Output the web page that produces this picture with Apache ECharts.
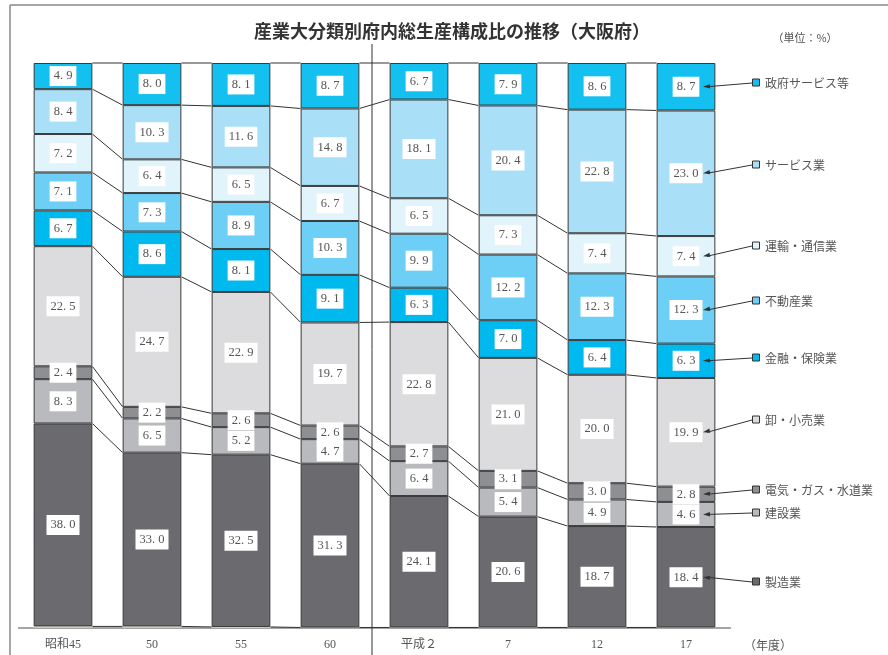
<!DOCTYPE html>
<html><head><meta charset="utf-8">
<script src="https://cdn.jsdelivr.net/npm/echarts@6/dist/echarts.min.js"></script>
<style>html,body{margin:0;padding:0;background:#fff}#c{width:888px;height:655px}</style>
</head><body><div id="c"></div>
<script>
const categories = ['昭和45','50','55','60','平成２','7','12','17'];
const agriculture = [0.3, 0.3, 0.2, 0.1, 0.1, 0.1, 0.1, 0.1];
const manufacturing = [38.0, 33.0, 32.5, 31.3, 24.1, 20.6, 18.7, 18.4];
const construction = [8.3, 6.5, 5.2, 4.7, 6.4, 5.4, 4.9, 4.6];
const utilities = [2.4, 2.2, 2.6, 2.6, 2.7, 3.1, 3.0, 2.8];
const trade = [22.5, 24.7, 22.9, 19.7, 22.8, 21.0, 20.0, 19.9];
const finance = [6.7, 8.6, 8.1, 9.1, 6.3, 7.0, 6.4, 6.3];
const realEstate = [7.1, 7.3, 8.9, 10.3, 9.9, 12.2, 12.3, 12.3];
const transport = [7.2, 6.4, 6.5, 6.7, 6.5, 7.3, 7.4, 7.4];
const services = [8.4, 10.3, 11.6, 14.8, 18.1, 20.4, 22.8, 23.0];
const government = [4.9, 8.0, 8.1, 8.7, 6.7, 7.9, 8.6, 8.7];

const seriesDefs = [
  {name:'農林水産業', data: agriculture, color:'#d8cc9c', label:false},
  {name:'製造業', data: manufacturing, color:'#6a6a6f', legendY:582},
  {name:'建設業', data: construction, color:'#b9babd', legendY:513},
  {name:'電気・ガス・水道業', data: utilities, color:'#8e8f93', legendY:490},
  {name:'卸・小売業', data: trade, color:'#dcdcde', legendY:420},
  {name:'金融・保険業', data: finance, color:'#00b9ef', legendY:358},
  {name:'不動産業', data: realEstate, color:'#6dcff5', legendY:301},
  {name:'運輸・通信業', data: transport, color:'#e1f3fb', legendY:246},
  {name:'サービス業', data: services, color:'#aadff8', legendY:165},
  {name:'政府サービス等', data: government, color:'#13c0f0', legendY:83}
];

const totals = categories.map((c, i) => seriesDefs.reduce((s, d) => s + d.data[i], 0));
const pct = seriesDefs.map(d => d.data.map((v, i) => v / totals[i] * 100));
const cum = categories.map((c, i) => {
  const arr = [0]; let s = 0;
  pct.forEach(p => { s += p[i]; arr.push(s); });
  return arr;
});

const labelFont = '"Liberation Serif","DejaVu Serif",serif';
const cjkFont = '"Noto Sans CJK JP","Noto Sans",sans-serif';
const BW = 0.66;

const series = seriesDefs.map((d, si) => ({
  name: d.name,
  type: 'bar',
  stack: 'total',
  barWidth: (BW * 100) + '%',
  data: pct[si],
  itemStyle: {color: d.color, borderColor: si === 0 ? d.color : '#3a3a3a', borderWidth: si === 0 ? 0 : 1},
  label: {
    show: d.label !== false,
    position: 'inside',
    formatter: p => d.data[p.dataIndex].toFixed(1).replace('.', '. '),
    color: '#555',
    fontFamily: labelFont,
    fontSize: 12.5,
    backgroundColor: '#fff',
    padding: [4, 4, 3, 4]
  },
  emphasis: {disabled: true},
  silent: true
}));

series.push({
  type: 'custom',
  silent: true,
  z: 1,
  data: categories.slice(0, categories.length - 1).map((c, i) => [i]),
  renderItem: (params, api) => {
    const i = api.value(0);
    const band = api.size([1, 0])[0];
    const half = band * BW / 2;
    const children = [];
    const a = cum[i], b = cum[i + 1];
    for (let k = 1; k < a.length; k++) {
      const p0 = api.coord([i, a[k]]);
      const p1 = api.coord([i + 1, b[k]]);
      children.push({
        type: 'line',
        shape: {x1: p0[0] + half, y1: p0[1], x2: p1[0] - half, y2: p1[1]},
        style: {stroke: '#333', lineWidth: 1}
      });
    }
    return {type: 'group', children};
  }
});

const chart = echarts.init(document.getElementById('c'));
chart.setOption({
  animation: false,
  grid: {left: 18.5, right: 157.5, top: 63, bottom: 27},
  xAxis: {
    type: 'category',
    data: categories,
    axisLine: {lineStyle: {color: '#888', width: 1.5}},
    axisTick: {show: false},
    axisLabel: {color: '#555', fontFamily: '"Liberation Serif","Noto Sans CJK JP",serif', fontSize: 12, margin: 11}
  },
  yAxis: {type: 'value', min: 0, max: 100, show: false, splitLine: {show: false}},
  series
});

const g = [
  {type: 'line', z: 100, shape: {x1: 10, y1: 5, x2: 10, y2: 655}, style: {stroke: '#888', lineWidth: 1.5}},
  {type: 'line', z: 100, shape: {x1: 10, y1: 5, x2: 888, y2: 5}, style: {stroke: '#888', lineWidth: 1.5}},
  {type: 'line', z: 100, shape: {x1: 372, y1: 44, x2: 372, y2: 655}, style: {stroke: '#333', lineWidth: 1}},
  {type: 'text', z: 100, x: 452, y: 31, style: {text: '産業大分類別府内総生産構成比の推移（大阪府）', font: 'bold 18px ' + cjkFont, fill: '#333', textAlign: 'center', textVerticalAlign: 'middle'}},
  {type: 'text', z: 100, x: 805, y: 38, style: {text: '（単位：%）', font: '11px ' + cjkFont, fill: '#555', textAlign: 'center', textVerticalAlign: 'middle'}},
  {type: 'text', z: 100, x: 768, y: 645, style: {text: '（年度）', font: '12px ' + cjkFont, fill: '#555', textAlign: 'center', textVerticalAlign: 'middle'}}
];
const last = categories.length - 1;
seriesDefs.forEach((d, si) => {
  if (d.legendY === undefined) return;
  const mid = (cum[last][si] + cum[last][si + 1]) / 2;
  const ty = chart.convertToPixel({xAxisIndex: 0, yAxisIndex: 0}, [last, mid])[1];
  const sx = 752, sy = d.legendY, tx = 703;
  g.push({type: 'rect', z: 100, shape: {x: 752.5, y: sy - 4, width: 7, height: 7}, style: {fill: d.color, stroke: '#333', lineWidth: 1}});
  g.push({type: 'text', z: 100, x: 765, y: sy, style: {text: d.name, font: '12px ' + cjkFont, fill: '#555', textVerticalAlign: 'middle'}});
  g.push({type: 'line', z: 100, shape: {x1: sx, y1: sy, x2: tx + 4, y2: ty}, style: {stroke: '#333', lineWidth: 1}});
  const ang = Math.atan2(sy - ty, sx - tx);
  const L = 7, W = 2.2;
  const bx = tx + L * Math.cos(ang), by = ty + L * Math.sin(ang);
  const nx = -Math.sin(ang) * W, ny = Math.cos(ang) * W;
  g.push({type: 'polygon', z: 100, shape: {points: [[tx, ty], [bx + nx, by + ny], [bx - nx, by - ny]]}, style: {fill: '#333'}});
});
chart.setOption({graphic: g});
</script>
</body></html>
